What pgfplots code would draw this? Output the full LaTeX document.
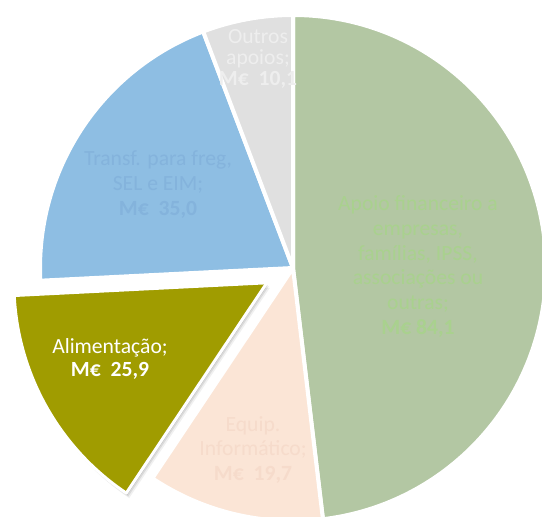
\documentclass[border=0pt]{standalone}
\usepackage{fontspec}
\setmainfont{Carlito}
\usepackage{pgfplots}
\pgfplotsset{compat=1.18}
\definecolor{cgreen}{HTML}{B3C7A3}
\definecolor{cpeach}{HTML}{FBE5D6}
\definecolor{colive}{HTML}{A09C00}
\definecolor{cblue}{HTML}{8EBEE3}
\definecolor{cgrey}{HTML}{E0E0E0}
\definecolor{tgreen}{HTML}{A9D18E}
\definecolor{tblue}{HTML}{84B3DC}
\definecolor{tgrey}{HTML}{EEEEEE}
\definecolor{tpeach}{HTML}{F6DBCB}
\begin{document}
\begin{tikzpicture}
% slice values (M€)
\pgfmathsetmacro\tot{84.1+19.7+25.9+35.0+10.1}
\pgfmathsetmacro\aA{90}
\pgfmathsetmacro\aB{\aA-360*(84.1/\tot)}
\pgfmathsetmacro\aC{\aB-360*(19.7/\tot)}
\pgfmathsetmacro\aD{\aC-360*(25.9/\tot)}
\pgfmathsetmacro\aE{\aD-360*(35.0/\tot)}
\pgfmathsetmacro\aF{\aE-360*(10.1/\tot)}
\pgfmathsetmacro\aM{(\aC+\aD)/2}
\def\R{5.06}
\pgfmathsetmacro\ox{0.6*cos(\aM)}
\pgfmathsetmacro\oy{0.6*sin(\aM)}
\pgfmathsetmacro\px{\ox+\R*cos(\aC)}
\pgfmathsetmacro\py{\oy+\R*sin(\aC)}
\begin{axis}[
  x=1cm, y=1cm, scale only axis,
  xmin=-5.86, xmax=4.98, ymin=-4.96, ymax=5.36,
  hide axis, clip=true,
]
\path (axis cs:-5.86,-4.96) rectangle (axis cs:4.98,5.36);
\tikzset{wedge/.style={draw=white, line width=0.08cm, line join=round}}
\fill[cgreen, wedge] (axis cs:0,0) -- (axis cs:{\R*cos(\aA)},{\R*sin(\aA)}) arc[start angle=\aA, end angle=\aB, radius=\R] -- cycle;
\fill[cpeach, wedge] (axis cs:0,0) -- (axis cs:{\R*cos(\aB)},{\R*sin(\aB)}) arc[start angle=\aB, end angle=\aC, radius=\R] -- cycle;
\fill[cblue, wedge] (axis cs:0,0) -- (axis cs:{\R*cos(\aD)},{\R*sin(\aD)}) arc[start angle=\aD, end angle=\aE, radius=\R] -- cycle;
\fill[cgrey, wedge] (axis cs:0,0) -- (axis cs:{\R*cos(\aE)},{\R*sin(\aE)}) arc[start angle=\aE, end angle=\aF, radius=\R] -- cycle;
% exploded slice with soft shadow
\fill[black, opacity=0.06] (axis cs:{\ox+0.06},{\oy-0.10}) -- (axis cs:{\px+0.06},{\py-0.10}) arc[start angle=\aC, end angle=\aD, radius=\R] -- cycle;
\fill[black, opacity=0.09] (axis cs:{\ox+0.04},{\oy-0.07}) -- (axis cs:{\px+0.04},{\py-0.07}) arc[start angle=\aC, end angle=\aD, radius=\R] -- cycle;
\fill[black, opacity=0.12] (axis cs:{\ox+0.02},{\oy-0.04}) -- (axis cs:{\px+0.02},{\py-0.04}) arc[start angle=\aC, end angle=\aD, radius=\R] -- cycle;
\fill[colive, draw=white, line width=0.06cm, line join=round] (axis cs:\ox,\oy) -- (axis cs:\px,\py) arc[start angle=\aC, end angle=\aD, radius=\R] -- cycle;
% labels
\tikzset{lab/.style={align=center, font=\fontsize{12.3}{14.2}\selectfont}}
\node[lab, text=tgrey, font=\fontsize{12.3}{12.2}\selectfont] at (axis cs:-0.70,4.18) {Outros\\apoios;\\\textbf{M€\ \ 10,1}};
\node[lab, text=tblue] at (axis cs:-2.70,1.66) {Transf. para freg,\\SEL e EIM;\\\textbf{M€\ \ 35,0}};
\node[lab, text=tgreen] at (axis cs:2.50,0.03) {Apoio financeiro a\\empresas,\\famílias, IPSS,\\associações ou\\outras;\\\textbf{M€ 84,1}};
\node[lab, text=tpeach] at (axis cs:-0.80,-3.64) {Equip.\\Informático;\\\textbf{M€\ \ 19,7}};
\node[lab, text=white, font=\fontsize{12.3}{12.8}\selectfont] at (axis cs:-3.66,-1.82) {Alimentação;\\\textbf{M€\ \ 25,9}};
\end{axis}
\end{tikzpicture}
\end{document}
